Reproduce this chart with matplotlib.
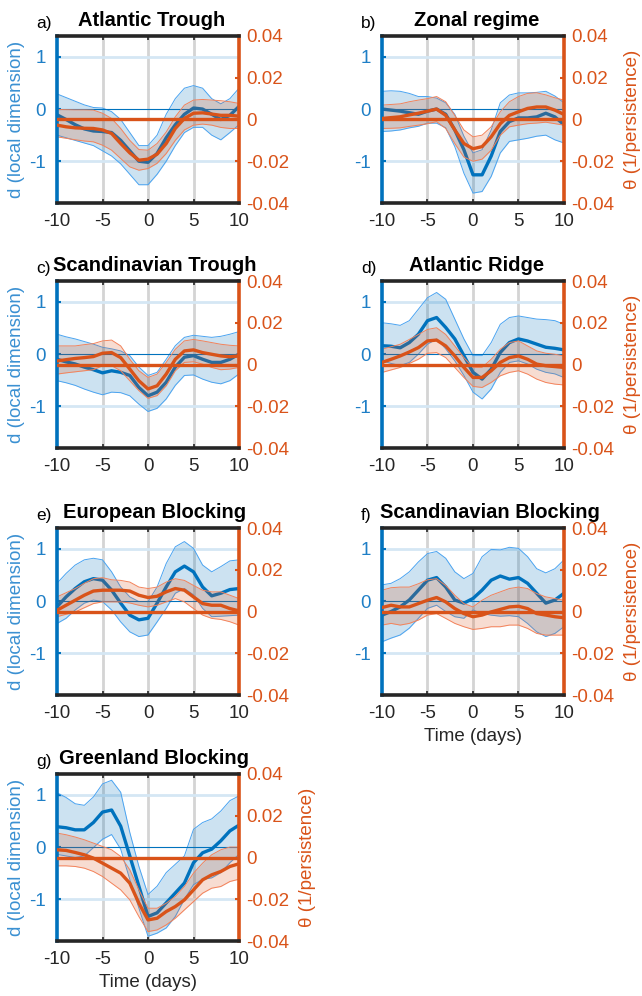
import matplotlib
matplotlib.use('Agg')
import matplotlib.pyplot as plt
import numpy as np

plt.rcParams['font.family'] = ['Liberation Sans', 'DejaVu Sans']
plt.rcParams['axes.unicode_minus'] = False

days = np.arange(-10, 11)

titles = ['Atlantic Trough', 'Zonal regime', 'Scandinavian Trough', 'Atlantic Ridge',
          'European Blocking', 'Scandinavian Blocking', 'Greenland Blocking']
letters = ['a)', 'b)', 'c)', 'd)', 'e)', 'f)', 'g)']

# ---- a) Atlantic Trough
a_d = [-0.11, -0.2, -0.3, -0.38, -0.42, -0.43, -0.45, -0.6, -0.8, -1.0, -1.02, -0.85, -0.55, -0.3, -0.1, 0.02, 0.0, -0.1, -0.2, -0.12, 0.05]
a_d_hi = [0.29, 0.22, 0.15, 0.08, 0.03, 0.02, -0.05, -0.2, -0.45, -0.7, -0.7, -0.5, -0.1, 0.2, 0.4, 0.45, 0.4, 0.2, 0.1, 0.2, 0.4]
a_d_lo = [-0.5, -0.55, -0.6, -0.65, -0.7, -0.8, -0.9, -1.05, -1.25, -1.45, -1.45, -1.25, -1.0, -0.7, -0.45, -0.35, -0.35, -0.5, -0.59, -0.45, -0.3]
a_t = [-0.0027, -0.0035, -0.004, -0.0042, -0.0043, -0.005, -0.0067, -0.0115, -0.016, -0.0195, -0.019, -0.0166, -0.0115, -0.0043, 0.0005, 0.003, 0.0032, 0.0026, 0.002, 0.002, 0.0016]
a_t_hi = [0.0048, 0.0047, 0.0046, 0.0046, 0.0045, 0.003, 0.0005, -0.0043, -0.01, -0.0144, -0.0147, -0.0115, -0.006, 0.0013, 0.0069, 0.0093, 0.0096, 0.0093, 0.009, 0.0085, 0.0077]
a_t_lo = [-0.0083, -0.009, -0.0097, -0.0103, -0.0107, -0.0123, -0.0147, -0.0187, -0.0227, -0.0243, -0.0235, -0.021, -0.0163, -0.01, -0.005, -0.0027, -0.0022, -0.0027, -0.0038, -0.0043, -0.0043]

# ---- b) Zonal regime
b_d = [0.0, -0.02, -0.04, -0.07, -0.1, -0.04, 0.0, -0.1, -0.4, -0.78, -1.26, -1.26, -0.9, -0.43, -0.24, -0.17, -0.17, -0.15, -0.08, -0.15, -0.3]
b_d_hi = [0.34, 0.35, 0.34, 0.3, 0.24, 0.24, 0.21, 0.12, -0.1, -0.52, -0.84, -0.78, -0.4, 0.12, 0.27, 0.31, 0.31, 0.32, 0.34, 0.25, 0.12]
b_d_lo = [-0.43, -0.42, -0.4, -0.36, -0.33, -0.27, -0.27, -0.36, -0.72, -1.23, -1.61, -1.58, -1.29, -0.84, -0.62, -0.59, -0.56, -0.52, -0.5, -0.59, -0.65]
b_t = [0.0005, 0.0009, 0.0013, 0.0022, 0.003, 0.004, 0.005, 0.002, -0.005, -0.0115, -0.014, -0.013, -0.0083, -0.002, 0.002, 0.0037, 0.0053, 0.006, 0.006, 0.0045, 0.0024]
b_t_hi = [0.0069, 0.0072, 0.0075, 0.0085, 0.0093, 0.01, 0.011, 0.0085, 0.002, -0.005, -0.0083, -0.0075, -0.0035, 0.0037, 0.0085, 0.011, 0.0125, 0.0128, 0.0118, 0.0104, 0.0093]
b_t_lo = [-0.0043, -0.0042, -0.004, -0.0033, -0.0027, -0.002, -0.001, -0.0043, -0.0115, -0.018, -0.02, -0.019, -0.0147, -0.0075, -0.0035, -0.0027, -0.002, -0.0017, -0.0013, -0.002, -0.0027]

# ---- c) Scandinavian Trough
c_d = [-0.1, -0.15, -0.19, -0.25, -0.3, -0.36, -0.32, -0.35, -0.41, -0.64, -0.8, -0.73, -0.54, -0.25, -0.06, -0.03, -0.1, -0.16, -0.16, -0.1, 0.0]
c_d_hi = [0.38, 0.33, 0.29, 0.24, 0.19, 0.13, 0.1, 0.06, -0.03, -0.25, -0.41, -0.35, -0.1, 0.16, 0.32, 0.36, 0.34, 0.32, 0.34, 0.38, 0.43]
c_d_lo = [-0.51, -0.55, -0.6, -0.67, -0.73, -0.78, -0.73, -0.74, -0.8, -0.96, -1.1, -1.04, -0.86, -0.6, -0.41, -0.4, -0.48, -0.54, -0.57, -0.51, -0.38]
c_t = [0.0017, 0.0023, 0.0029, 0.0033, 0.0038, 0.0054, 0.0057, 0.0033, -0.0022, -0.0078, -0.0117, -0.0102, -0.0046, 0.0025, 0.0065, 0.007, 0.0057, 0.0049, 0.0041, 0.0037, 0.0041]
c_t_hi = [0.0089, 0.0089, 0.0089, 0.0095, 0.01, 0.0113, 0.0117, 0.0089, 0.0025, -0.003, -0.0062, -0.0046, 0.001, 0.0073, 0.0113, 0.012, 0.0113, 0.0105, 0.0097, 0.0092, 0.0089]
c_t_lo = [-0.0046, -0.004, -0.0035, -0.003, -0.0025, -0.0006, -0.0006, -0.003, -0.0078, -0.0125, -0.0162, -0.0149, -0.0102, -0.003, 0.001, 0.0013, 0.0002, -0.0014, -0.0025, -0.0022, -0.0014]

# ---- d) Atlantic Ridge
d_d = [0.16, 0.15, 0.12, 0.22, 0.38, 0.64, 0.7, 0.51, 0.29, -0.03, -0.35, -0.48, -0.29, 0.03, 0.22, 0.29, 0.25, 0.19, 0.13, 0.11, 0.08]
d_d_hi = [0.6, 0.58, 0.55, 0.64, 0.86, 1.08, 1.18, 1.05, 0.67, 0.29, -0.03, -0.03, 0.22, 0.57, 0.7, 0.73, 0.7, 0.67, 0.66, 0.64, 0.57]
d_d_lo = [-0.13, -0.18, -0.22, -0.16, 0.0, 0.19, 0.29, 0.1, -0.13, -0.41, -0.73, -0.86, -0.67, -0.35, -0.16, -0.13, -0.19, -0.29, -0.35, -0.38, -0.45]
d_t = [0.001, 0.0025, 0.0041, 0.006, 0.0081, 0.0113, 0.0117, 0.0089, 0.0041, -0.0014, -0.0062, -0.0062, -0.003, 0.001, 0.0033, 0.0041, 0.0025, 0.0002, -0.0006, -0.001, -0.0014]
d_t_hi = [0.0073, 0.0085, 0.0097, 0.012, 0.0144, 0.0168, 0.0176, 0.0144, 0.0089, 0.0033, -0.0014, -0.0014, 0.0025, 0.0073, 0.0105, 0.0113, 0.0089, 0.0065, 0.0054, 0.0049, 0.0041]
d_t_lo = [-0.0038, -0.0026, -0.0014, 0.0005, 0.0025, 0.0054, 0.0057, 0.0033, -0.0014, -0.0062, -0.0105, -0.011, -0.0086, -0.0054, -0.0038, -0.003, -0.0046, -0.007, -0.0086, -0.0094, -0.0098]

# ---- e) European Blocking
e_d = [-0.11, 0.08, 0.24, 0.37, 0.43, 0.4, 0.21, -0.04, -0.27, -0.36, -0.33, -0.04, 0.27, 0.56, 0.67, 0.56, 0.27, 0.1, 0.15, 0.22, 0.24]
e_d_hi = [0.34, 0.53, 0.69, 0.79, 0.82, 0.79, 0.56, 0.27, 0.08, -0.01, -0.01, 0.27, 0.72, 1.04, 1.14, 1.01, 0.69, 0.56, 0.66, 0.77, 0.79]
e_d_lo = [-0.43, -0.33, -0.17, -0.04, 0.02, -0.01, -0.17, -0.4, -0.59, -0.68, -0.65, -0.4, -0.14, 0.15, 0.24, 0.12, -0.14, -0.3, -0.29, -0.28, -0.27]
e_t = [0.0006, 0.003, 0.0054, 0.0078, 0.0098, 0.0102, 0.0102, 0.0102, 0.0098, 0.0078, 0.0067, 0.0073, 0.0094, 0.011, 0.0102, 0.007, 0.0038, 0.003, 0.003, 0.0014, 0.0003]
e_t_hi = [0.007, 0.009, 0.011, 0.0135, 0.0157, 0.0162, 0.0152, 0.0149, 0.0141, 0.0117, 0.011, 0.0117, 0.0141, 0.0157, 0.0149, 0.0125, 0.0102, 0.0094, 0.0094, 0.0078, 0.0062]
e_t_lo = [-0.0025, -0.0013, -0.0002, 0.0018, 0.0038, 0.0046, 0.0046, 0.0046, 0.0041, 0.003, 0.0022, 0.003, 0.0046, 0.0062, 0.0046, 0.0014, -0.0017, -0.0033, -0.0038, -0.0049, -0.0065]

# ---- f) Scandinavian Blocking
f_d = [-0.27, -0.2, -0.11, 0.02, 0.21, 0.4, 0.45, 0.27, 0.02, -0.04, 0.05, 0.21, 0.4, 0.48, 0.42, 0.45, 0.34, 0.15, -0.04, 0.02, 0.15]
f_d_hi = [0.31, 0.34, 0.43, 0.56, 0.75, 0.91, 0.95, 0.82, 0.56, 0.43, 0.53, 0.85, 0.99, 0.98, 1.03, 1.01, 0.85, 0.62, 0.54, 0.62, 0.79]
f_d_lo = [-0.78, -0.71, -0.65, -0.52, -0.33, -0.14, -0.08, -0.2, -0.3, -0.33, -0.17, -0.24, -0.27, -0.29, -0.28, -0.3, -0.43, -0.59, -0.68, -0.62, -0.49]
f_t = [0.0019, 0.003, 0.0022, 0.0022, 0.0038, 0.0054, 0.0067, 0.0046, 0.0014, -0.001, -0.0025, -0.0017, -0.0002, 0.001, 0.0022, 0.0025, 0.0014, -0.001, -0.0017, -0.0025, -0.003]
f_t_hi = [0.0102, 0.0114, 0.0117, 0.0117, 0.0133, 0.0152, 0.0157, 0.0125, 0.0078, 0.0038, 0.0022, 0.0054, 0.0078, 0.0094, 0.011, 0.0117, 0.011, 0.0086, 0.007, 0.0062, 0.0054]
f_t_lo = [-0.0065, -0.0057, -0.0065, -0.0057, -0.0041, -0.0017, -0.001, -0.0033, -0.0057, -0.0073, -0.0086, -0.0081, -0.0073, -0.0073, -0.0065, -0.0065, -0.0081, -0.0105, -0.0113, -0.0113, -0.0113]

# ---- g) Greenland Blocking
g_d = [0.39, 0.37, 0.33, 0.33, 0.47, 0.67, 0.71, 0.4, -0.17, -0.75, -1.33, -1.26, -1.07, -0.88, -0.69, -0.3, -0.11, -0.04, 0.12, 0.31, 0.42]
g_d_hi = [1.04, 0.95, 0.83, 0.8, 0.96, 1.21, 1.28, 1.05, 0.28, -0.37, -0.91, -0.75, -0.49, -0.33, -0.17, 0.34, 0.47, 0.54, 0.69, 0.89, 0.98]
g_d_lo = [-0.14, -0.17, -0.2, -0.17, -0.01, 0.15, 0.24, -0.04, -0.62, -1.17, -1.71, -1.65, -1.55, -1.33, -1.0, -0.72, -0.62, -0.59, -0.49, -0.3, -0.14]
g_t = [0.0037, 0.0034, 0.0024, 0.0013, -0.0003, -0.0027, -0.0051, -0.0075, -0.0123, -0.0219, -0.0299, -0.0291, -0.0259, -0.0235, -0.0203, -0.0155, -0.0107, -0.0083, -0.0067, -0.0043, -0.003]
g_t_hi = [0.0117, 0.0109, 0.0098, 0.0085, 0.0069, 0.0053, 0.0037, 0.0005, -0.0059, -0.0155, -0.0243, -0.0243, -0.0219, -0.0187, -0.0139, -0.0075, -0.0027, 0.0013, 0.0037, 0.005, 0.005]
g_t_lo = [-0.004, -0.004, -0.0043, -0.0051, -0.0067, -0.0091, -0.0123, -0.0155, -0.0203, -0.0283, -0.0355, -0.0347, -0.0323, -0.0291, -0.0251, -0.0211, -0.0171, -0.0147, -0.0139, -0.0115, -0.0104]

panels = [
    (a_d, a_d_lo, a_d_hi, a_t, a_t_lo, a_t_hi),
    (b_d, b_d_lo, b_d_hi, b_t, b_t_lo, b_t_hi),
    (c_d, c_d_lo, c_d_hi, c_t, c_t_lo, c_t_hi),
    (d_d, d_d_lo, d_d_hi, d_t, d_t_lo, d_t_hi),
    (e_d, e_d_lo, e_d_hi, e_t, e_t_lo, e_t_hi),
    (f_d, f_d_lo, f_d_hi, f_t, f_t_lo, f_t_hi),
    (g_d, g_d_lo, g_d_hi, g_t, g_t_lo, g_t_hi),
]

xticks = [-10, -5, 0, 5, 10]
d_ticks = [-1, 0, 1]
t_ticks = [-0.04, -0.02, 0, 0.02, 0.04]
t_ticklabels = ['-0.04', '-0.02', '0', '0.02', '0.04']

BLUE = '#0072BD'
BLUE_TXT = '#1f7fc6'
BLUE_LBL = '#3a90d2'
BLUE_EDGE = '#4aa3f0'
ORANGE = '#D95319'
ORANGE_EDGE = '#f3825a'
DARK = '#262626'

W, H = 642, 996
fig = plt.figure(figsize=(W / 100, H / 100), dpi=100)

pos = [(57, 36), (382, 36), (57, 281), (382, 281), (57, 528), (382, 528), (57, 774)]
title_cx = [152, 477, 155, 477, 155, 490, 154]   # title centre, pixels
aw, ah = 182, 167
left_label = [0, 2, 4, 6]
right_label = [1, 3, 5, 6]
x_label = [5, 6]

FS = 13.5

for i, (px, py) in enumerate(pos):
    dm, dlo, dhi, tm, tlo, thi = panels[i]
    ax = fig.add_axes([px / W, 1 - (py + ah) / H, aw / W, ah / H])
    ax2 = ax.twinx()

    ax.set_xlim(-10, 10)
    ax.set_ylim(-1.8, 1.4)
    ax2.set_ylim(-0.04, 0.04)

    # grid
    for xv in [-5, 0, 5]:
        ax.axvline(xv, color='#d4d4d4', lw=2.0, zorder=0)
    for yv in [-1, 1]:
        ax.axhline(yv, color='#d5e7f4', lw=2.0, zorder=0)

    # local dimension
    ax.fill_between(days, dlo, dhi, color=BLUE, alpha=0.2, lw=0, zorder=1)
    ax.plot(days, dlo, color=BLUE_EDGE, lw=0.7, zorder=2)
    ax.plot(days, dhi, color=BLUE_EDGE, lw=0.7, zorder=2)
    ax.axhline(0, color=BLUE, lw=0.8, zorder=2)
    ax.plot(days, dm, color=BLUE, lw=2.4, zorder=3)

    # persistence
    ax2.fill_between(days, tlo, thi, color=ORANGE, alpha=0.2, lw=0, zorder=1)
    ax2.plot(days, tlo, color=ORANGE_EDGE, lw=0.7, zorder=2)
    ax2.plot(days, thi, color=ORANGE_EDGE, lw=0.7, zorder=2)
    ax2.plot(days, tm, color=ORANGE, lw=2.4, zorder=3)
    ax2.axhline(0, color=ORANGE, lw=2.4, zorder=4)

    # spines
    for s in ['top', 'bottom', 'left', 'right']:
        ax.spines[s].set_visible(False)
    ax2.spines['left'].set_color(BLUE)
    ax2.spines['left'].set_linewidth(2.6)
    ax2.spines['right'].set_color(ORANGE)
    ax2.spines['right'].set_linewidth(2.6)
    ax2.spines['top'].set_color('#262626')
    ax2.spines['top'].set_linewidth(2.6)
    ax2.spines['bottom'].set_color('#262626')
    ax2.spines['bottom'].set_linewidth(2.6)

    ax.set_xticks(xticks)
    ax.set_xticklabels([str(v) for v in xticks])
    ax.tick_params(axis='x', direction='in', length=3, width=1.2, color='#262626',
                   top=True, labelsize=FS, labelcolor=DARK, pad=7)
    ax.set_yticks(d_ticks)
    ax.set_yticklabels([str(v) for v in d_ticks])
    ax.tick_params(axis='y', direction='in', length=3, width=1.5, color=BLUE,
                   labelcolor=BLUE_TXT, labelsize=FS, pad=8)
    ax2.set_yticks(t_ticks)
    ax2.set_yticklabels(t_ticklabels)
    ax2.tick_params(axis='y', direction='in', length=3, width=1.5, color=ORANGE,
                    labelcolor=ORANGE, labelsize=FS, pad=5)

    ttl = ax2.set_title(titles[i], fontsize=14.5, fontweight='bold', pad=7)
    ttl.set_x((title_cx[i] - px) / aw)
    fig.text((px - 21) / W, 1 - (py - 8) / H, letters[i], fontsize=12.5,
             ha='left', va='baseline', color='black')

    if i in left_label:
        ax.set_ylabel('d (local dimension)', fontsize=FS, color=BLUE_LBL)
        ax.yaxis.set_label_coords(-0.176, 0.5)
    if i in right_label:
        ax2.set_ylabel('θ (1/persistence)', fontsize=FS, color=ORANGE)
        ax2.yaxis.set_label_coords(1.33, 0.5)
    if i in x_label:
        ax.set_xlabel('Time (days)', fontsize=FS, color=DARK)
        ax.xaxis.set_label_coords(0.5, -0.2)

fig.savefig('out.png', dpi=100)
